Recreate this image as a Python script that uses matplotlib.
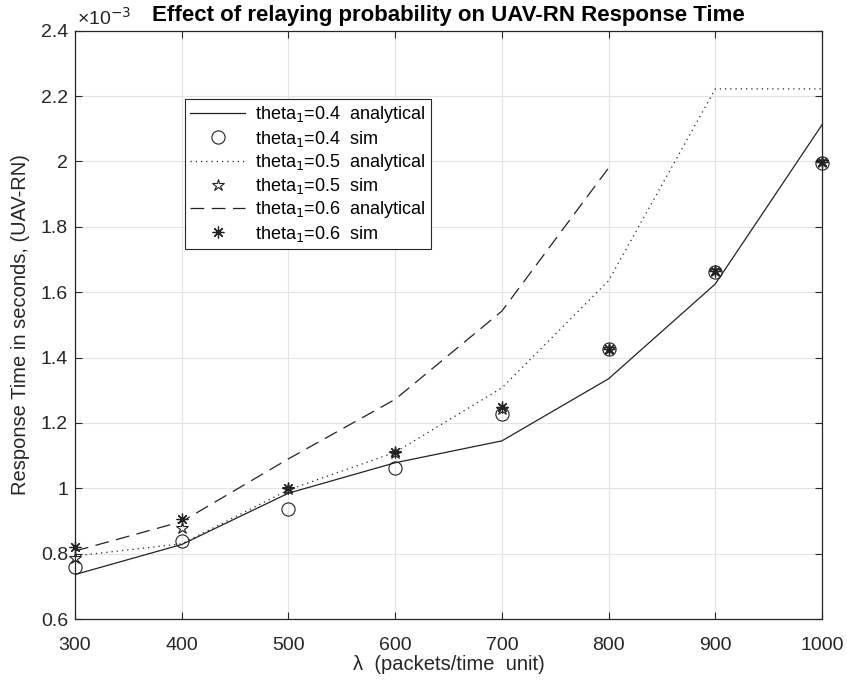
import matplotlib
matplotlib.use("Agg")
import matplotlib.pyplot as plt
from matplotlib.ticker import FuncFormatter, MultipleLocator

plt.rcParams['font.family'] = ['Liberation Sans', 'DejaVu Sans']

lam = [300, 400, 500, 600, 700, 800, 900, 1000]
an_04 = [0.736e-3, 0.828e-3, 0.985e-3, 1.078e-3, 1.145e-3, 1.335e-3, 1.625e-3, 2.112e-3]
sim_04 = [0.758e-3, 0.838e-3, 0.938e-3, 1.063e-3, 1.228e-3, 1.425e-3, 1.662e-3, 1.995e-3]
an_05 = [0.793e-3, 0.830e-3, 0.995e-3, 1.110e-3, 1.307e-3, 1.635e-3, 2.222e-3, 2.222e-3]
sim_05 = [0.787e-3, 0.878e-3, 0.998e-3, 1.108e-3, 1.243e-3, 1.427e-3, 1.665e-3, 1.998e-3]
lam_06 = [300, 400, 500, 600, 700, 800]
an_06 = [0.808e-3, 0.898e-3, 1.090e-3, 1.272e-3, 1.542e-3, 1.980e-3]
sim_06 = [0.820e-3, 0.906e-3, 1.000e-3, 1.112e-3, 1.250e-3, 1.427e-3, 1.665e-3, 1.998e-3]

fig = plt.figure(figsize=(8.47, 6.82), dpi=100)
ax = fig.add_axes([75/847, 1-619/682, (822-75)/847, (619-30.7)/682])

lc = '#222222'
lw = 0.9
ax.plot(lam, an_04, '-', color=lc, lw=lw, label='theta$_1$=0.4  analytical')
ax.plot(lam, sim_04, 'o', color=lc, mfc='none', ms=9.5, mew=0.8, ls='none',
        clip_on=False, label='theta$_1$=0.4  sim')
ax.plot(lam, an_05, color=lc, lw=lw, ls=(0, (1, 3.2)), label='theta$_1$=0.5  analytical')
ax.plot(lam, sim_05, '*', color=lc, mfc='none', ms=9, mew=0.8, ls='none',
        clip_on=False, label='theta$_1$=0.5  sim')
ax.plot(lam_06, an_06, color=lc, lw=lw, ls=(0, (11, 6)), label='theta$_1$=0.6  analytical')
ax.plot(lam, sim_06, marker=(8, 2, 0), color=lc, ms=8.5, mew=0.9, ls='none',
        clip_on=False, label='theta$_1$=0.6  sim')

ax.set_xlim(300, 1000)
ax.set_ylim(0.6e-3, 2.4e-3)
ax.xaxis.set_major_locator(MultipleLocator(100))
ax.yaxis.set_major_locator(MultipleLocator(0.2e-3))
ax.yaxis.set_major_formatter(FuncFormatter(lambda v, p: f"{round(v*1e3, 3):g}"))

ax.grid(True, color='#e3e3e3', lw=0.8)
ax.set_axisbelow(True)
for s in ax.spines.values():
    s.set_color('#262626')
    s.set_linewidth(0.9)
ax.tick_params(direction='in', top=True, right=True, labelsize=14, colors='#262626',
               length=5, width=0.8)
ax.tick_params(axis='x', pad=13)
ax.tick_params(axis='y', pad=5)

ax.set_xlabel('λ  (packets/time  unit)', fontsize=14.5, color='#262626', labelpad=1)
ax.set_ylabel('Response Time in seconds, (UAV-RN)', fontsize=14.5, color='#262626', labelpad=8)
ax.set_title('Effect of relaying probability on UAV-RN Response Time', fontsize=16,
             fontweight='bold', pad=7)
ax.text(0.003, 1.004, '×10$^{-3}$', transform=ax.transAxes, fontsize=14, color='#262626',
        ha='left', va='bottom')

leg = ax.legend(loc='upper left', bbox_to_anchor=(185/847, 1-99/682),
                bbox_transform=fig.transFigure, fontsize=13, frameon=True,
                fancybox=False, edgecolor='#262626', framealpha=1,
                borderpad=0.3, labelspacing=0.18, handlelength=3.0, handletextpad=0.6,
                borderaxespad=0)
leg.get_frame().set_linewidth(0.8)

fig.savefig('out.png', dpi=100)
